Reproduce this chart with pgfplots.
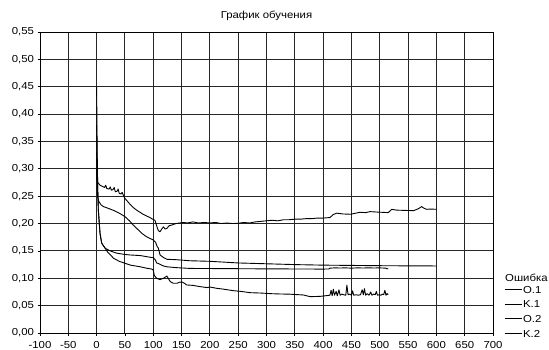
\documentclass[border=0pt]{standalone}
\usepackage{pgfplots}
\pgfplotsset{compat=1.18}
\usepackage{fontspec}
\setmainfont{Liberation Sans}[FakeStretch=1.12]

\pgfplotsset{errcurve/.style={black, no markers, line width=0.9bp, line join=round}}

\begin{document}
\fontsize{10.2}{12}\selectfont
\begin{tikzpicture}
\begin{axis}[
  name=ax,
  scale only axis,
  width=453bp, height=301bp,
  xmin=-100, xmax=700, ymin=0, ymax=0.55,
  xtick distance=50, ytick distance=0.05,
  grid=major,
  major grid style={black!85, line width=1bp},
  axis line style={black, line width=1bp},
  tick pos=left, tick align=outside,
  major tick length=2.5bp,
  tick style={black, line width=0.8bp},
  /pgf/number format/assume math mode=true,
  yticklabel style={/pgf/number format/.cd, fixed, fixed zerofill, precision=2, use comma},
  xticklabel style={yshift=-2bp},
  title={График обучения},
  title style={yshift=5bp, inner sep=0pt},
  legend style={at={(1.0243,0.1618)}, anchor=north west, draw=none, fill=none,
    inner sep=0pt, row sep=5.2bp,
    nodes={inner sep=1bp, text height=7.5bp, text depth=0bp}},
  legend cell align=left,
  legend image code/.code={\draw[#1] (0bp,0bp) -- (17bp,0bp);},
  clip=false,
]
% O.1: training error, run 1
\addplot[errcurve] coordinates {
(0,0.30)(1,0.26)(2,0.248)(4,0.240)(8,0.234)(12,0.231)(20,0.228)(30,0.224)
(40,0.219)(50,0.2127)(58,0.205)(65,0.197)(71,0.191)(80,0.182)(88,0.176)
(94,0.173)(100,0.170)(104,0.166)(107,0.158)(109,0.155)(112,0.1426)(118,0.138)
(124,0.1347)(140,0.134)(165,0.132)(200,0.131)(250,0.128)(300,0.1265)
(350,0.125)(400,0.124)(450,0.1235)(500,0.123)(550,0.1227)(600,0.1225)
};
\addlegendentry{O.1}
% K.1: control error, run 1
\addplot[errcurve] coordinates {
(0,0.33)(1,0.29)(2,0.275)(3,0.274)(6,0.270)(10,0.268)(14,0.266)(16,0.270)
(18,0.264)(22,0.263)(24,0.267)(26,0.261)(29,0.262)(31,0.266)(33,0.258)
(36,0.259)(38,0.263)(40,0.255)(43,0.254)(45,0.257)(48,0.250)(50,0.246)
(55,0.240)(60,0.234)(65,0.229)(70,0.225)(76,0.221)(82,0.217)(88,0.214)
(94,0.211)(99,0.208)(103,0.206)(106,0.196)(109,0.187)(112,0.185)(115,0.190)
(118,0.194)(121,0.190)(124,0.191)(128,0.196)(132,0.197)(140,0.200)(153,0.202)
(160,0.201)(170,0.203)(180,0.201)(190,0.202)(200,0.201)(210,0.202)(220,0.200)
(230,0.201)(240,0.200)(250,0.2005)(260,0.202)(270,0.201)(280,0.203)(290,0.204)
(300,0.205)(310,0.206)(320,0.205)(330,0.207)(340,0.207)(350,0.208)(360,0.208)
(370,0.209)(380,0.209)(390,0.210)(400,0.210)(412,0.211)(418,0.2165)(424,0.219)
(435,0.2175)(448,0.217)(458,0.219)(465,0.2206)(475,0.2200)(483,0.2218)
(495,0.221)(505,0.2205)(515,0.220)(521,0.226)(530,0.2245)(545,0.224)
(560,0.2236)(568,0.227)(574,0.231)(578,0.228)(583,0.226)(590,0.2265)(600,0.226)
};
\addlegendentry{K.1}
% O.2: training error, run 2
\addplot[errcurve] coordinates {
(0,0.45)(1,0.33)(2,0.26)(3,0.225)(6,0.182)(9,0.164)(15,0.155)(20,0.147)
(24,0.143)(30,0.1365)(40,0.131)(50,0.1274)(60,0.124)(77,0.121)(90,0.118)
(97,0.117)(100,0.115)(102,0.105)(106,0.100)(112,0.0975)(118,0.100)(121,0.102)
(124,0.104)(127,0.099)(130,0.094)(135,0.091)(142,0.091)(147,0.093)(151,0.093)
(155,0.091)(159,0.0878)(170,0.087)(183,0.0847)(195,0.083)(200,0.084)
(212,0.0817)(225,0.080)(241,0.0774)(255,0.076)(271,0.0737)(290,0.073)
(310,0.0718)(324,0.0713)(340,0.071)(365,0.0695)(377,0.0664)(395,0.0670)
(412,0.069)(414,0.078)(416,0.068)(418,0.080)(420,0.069)(423,0.076)(425,0.068)
(428,0.079)(430,0.069)(433,0.071)(436,0.070)(440,0.069)(442,0.0875)(444,0.070)
(447,0.071)(450,0.069)(452,0.077)(454,0.069)(458,0.070)(462,0.069)(466,0.070)
(469,0.079)(471,0.070)(473,0.081)(475,0.069)(478,0.072)(481,0.069)(484,0.075)
(486,0.069)(489,0.071)(492,0.070)(494,0.076)(496,0.069)(499,0.070)(502,0.069)
(505,0.071)(507,0.070)(509,0.078)(511,0.069)(513,0.072)(515,0.070)
};
\addlegendentry{O.2}
% K.2: control error, run 2
\addplot[errcurve] coordinates {
(0,0.38)(1,0.30)(2,0.26)(3,0.225)(6,0.182)(9,0.164)(15,0.155)(24,0.150)
(35,0.146)(50,0.1435)(59,0.1426)(77,0.1415)(97,0.138)(100,0.138)(104,0.133)
(106,0.128)(109,0.127)(118,0.1225)(124,0.121)(140,0.1195)(165,0.118)
(200,0.1178)(250,0.1175)(300,0.1172)(350,0.117)(400,0.1168)(410,0.117)
(412,0.1185)(420,0.119)(430,0.1188)(440,0.119)(450,0.1185)(460,0.119)
(470,0.1188)(480,0.119)(490,0.1188)(500,0.119)(510,0.1185)(515,0.117)
};
\addlegendentry{K.2}
\node[anchor=west, inner sep=0pt] at (rel axis cs:1.0265,0.1827) {Ошибка};
\end{axis}
\pgfresetboundingbox
\path ([xshift=-40bp,yshift=-16bp]ax.south west) rectangle ([xshift=56bp,yshift=32bp]ax.north east);
\end{tikzpicture}
\end{document}
